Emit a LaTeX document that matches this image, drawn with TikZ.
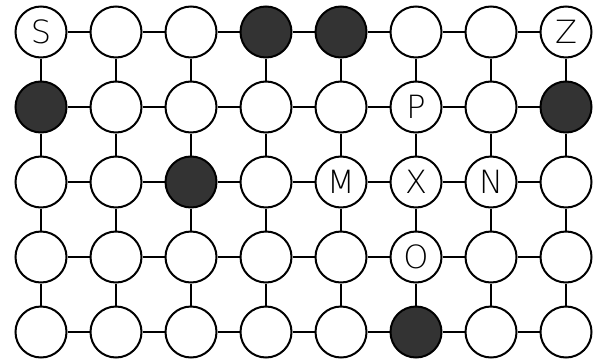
\documentclass[tikz,border=0pt]{standalone}
\usepackage{fontspec}
\setmainfont{DejaVu Sans ExtraLight}
\definecolor{darkfill}{HTML}{333333}
\begin{document}
\begin{tikzpicture}[x=1pt,y=-1pt,
  cell/.style={circle,draw=black,line width=2pt,fill=white,minimum size=51pt,inner sep=0pt,font=\fontsize{32}{32}\selectfont},
  blocked/.style={fill=darkfill},
  link/.style={line width=2pt}]
\useasboundingbox (0,0) rectangle (601,361);
% plain cells
\foreach \r/\c in {0/1,0/2,0/5,0/6,
                   1/1,1/2,1/3,1/4,1/6,
                   2/0,2/1,2/3,2/7,
                   3/0,3/1,3/2,3/3,3/4,3/6,3/7,
                   4/0,4/1,4/2,4/3,4/4,4/6,4/7}{
  \node[cell] (n-\r-\c) at ({41+75*\c},{32+75*\r}) {};
}
% blocked cells
\foreach \r/\c in {0/3,0/4,1/0,1/7,2/2,4/5}{
  \node[cell,blocked] (n-\r-\c) at ({41+75*\c},{32+75*\r}) {};
}
% labelled cells
\foreach \r/\c/\t in {0/0/S,0/7/Z,1/5/P,2/4/M,2/5/X,2/6/N,3/5/O}{
  \node[cell] (n-\r-\c) at ({41+75*\c},{32+75*\r}) {\t};
}
% horizontal links
\foreach \r in {0,...,4}{
  \foreach \c [evaluate=\c as \d using int(\c+1)] in {0,...,6}{
    \draw[link] (n-\r-\c) -- (n-\r-\d);
  }
}
% vertical links
\foreach \r [evaluate=\r as \s using int(\r+1)] in {0,...,3}{
  \foreach \c in {0,...,7}{
    \draw[link] (n-\r-\c) -- (n-\s-\c);
  }
}
\end{tikzpicture}
\end{document}
